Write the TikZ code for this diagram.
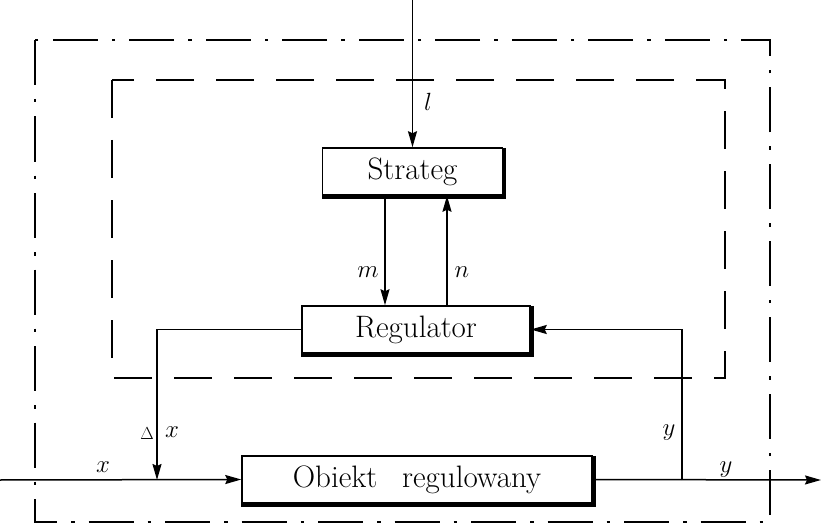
\documentclass[tikz,border=0pt]{standalone}
\usetikzlibrary{arrows.meta}
\tikzset{
  blk/.style={draw, line width=1.5pt, minimum height=47pt, inner sep=0pt,
    font=\fontsize{31}{34}\selectfont},
  arr/.style={line width=1.5pt, -{Stealth[length=16pt,width=9pt,inset=2pt]}},
  lbl/.style={font=\fontsize{24.88}{28}\selectfont, inner sep=0pt},
  outerframe/.style={line width=2.8pt, dash pattern=on 45pt off 14pt on 3.5pt off 14pt},
  innerframe/.style={line width=2.8pt, dash pattern=on 38pt off 22pt}
}
\newcommand{\shadowbox}[1]{%
  \draw[line width=3.5pt] ([xshift=1pt,yshift=-0.5pt]#1.north east) -- ([xshift=1pt,yshift=-1pt]#1.south east) -- ([yshift=-1pt]#1.south west);}
\begin{document}
\begin{tikzpicture}[x=1pt,y=-1pt]
\useasboundingbox (0,0) rectangle (823,527);
% frames
\draw[outerframe] (35,40) rectangle (770,522);
\draw[innerframe] (112,80) rectangle (725,378);
% blocks
\node[blk, minimum width=180pt] (S) at (412.5,171.5) {Strateg};
\node[blk, minimum width=228pt] (R) at (416,329.5) {Regulator};
\node[blk, minimum width=350pt] (O) at (417,479.5) {Obiekt\hspace{0.8em}regulowany};
\shadowbox{S}
\shadowbox{R}
\shadowbox{O}
% coordinates
\coordinate (lin) at (412.5,0);
\coordinate (mx) at (385,0);
\coordinate (nx) at (447,0);
\coordinate (j1) at (157,480);
\coordinate (xin) at (0,480);
\coordinate (yout) at (821,480);
\coordinate (j2) at (682,480);
% connectors
\draw[arr] (lin) -- (S.north);
\draw[arr] (S.south -| mx) -- (R.north -| mx);
\draw[arr] (R.north -| nx) -- (S.south -| nx);
\draw[arr] (R.west) -| (j1);
\draw[arr] (xin) -- (O.west);
\draw[arr] (O.east) -- (yout);
\draw[arr] (j2) |- (R.east);
% labels
\node[lbl] (ll) at (428,102) {$l$};
\node[lbl] (lm) at (368,272) {$m$};
\node[lbl] (ln) at (462,272) {$n$};
\node[lbl, scale=0.7] (ld) at (147,434) {$\Delta$};
\node[lbl] (ldx) at (172,432) {$x$};
\node[lbl] (lx) at (103,467) {$x$};
\node[lbl] (ly1) at (669,433) {$y$};
\node[lbl] (ly2) at (726,470) {$y$};
\end{tikzpicture}
\end{document}
